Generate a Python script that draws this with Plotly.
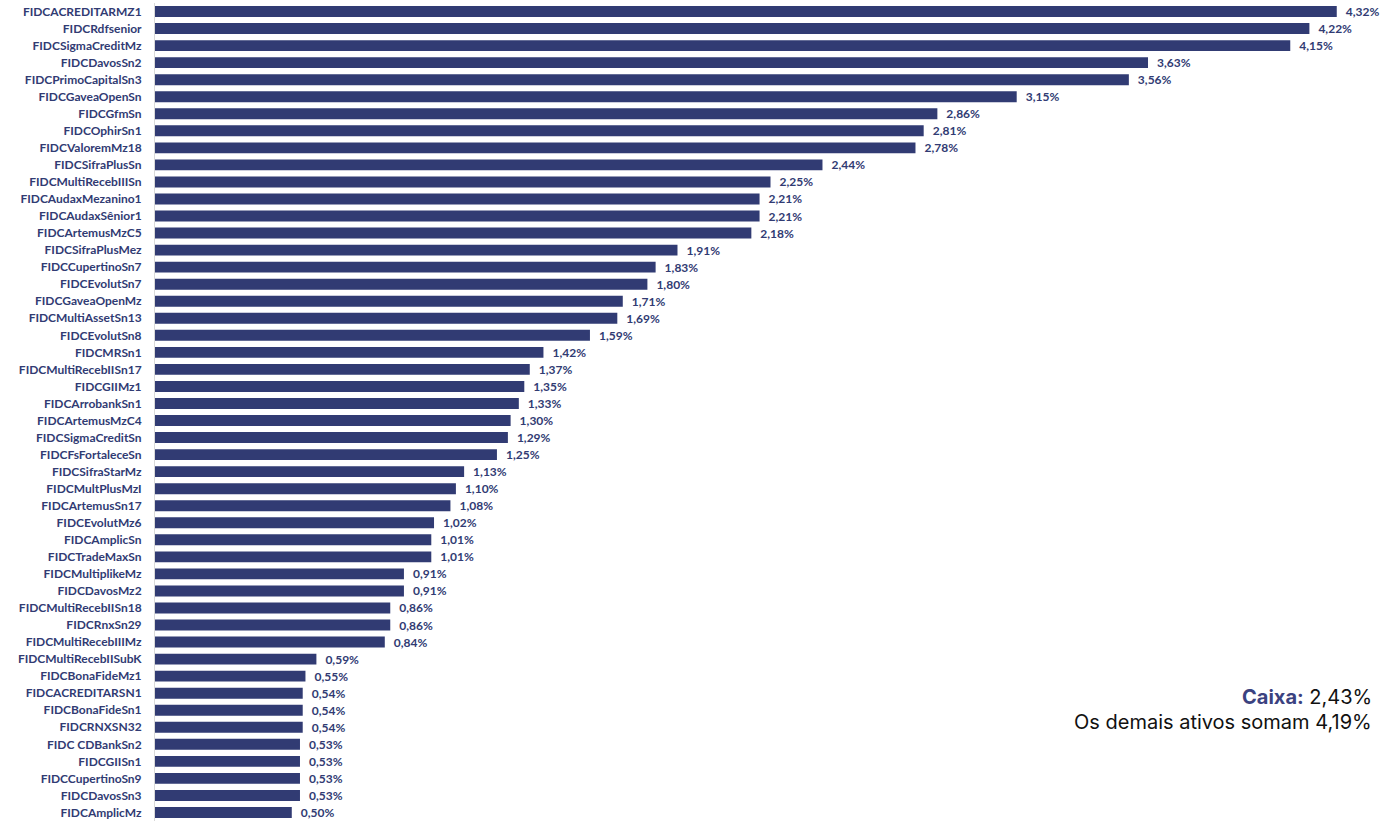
import plotly.graph_objects as go

categories = [
    "FIDCACREDITARMZ1", "FIDCRdfsenior", "FIDCSigmaCreditMz", "FIDCDavosSn2",
    "FIDCPrimoCapitalSn3", "FIDCGaveaOpenSn", "FIDCGfmSn", "FIDCOphirSn1",
    "FIDCValoremMz18", "FIDCSifraPlusSn", "FIDCMultiRecebIIISn", "FIDCAudaxMezanino1",
    "FIDCAudaxSênior1", "FIDCArtemusMzC5", "FIDCSifraPlusMez", "FIDCCupertinoSn7",
    "FIDCEvolutSn7", "FIDCGaveaOpenMz", "FIDCMultiAssetSn13", "FIDCEvolutSn8",
    "FIDCMRSn1", "FIDCMultiRecebIISn17", "FIDCGIIMz1", "FIDCArrobankSn1",
    "FIDCArtemusMzC4", "FIDCSigmaCreditSn", "FIDCFsFortaleceSn", "FIDCSifraStarMz",
    "FIDCMultPlusMzI", "FIDCArtemusSn17", "FIDCEvolutMz6", "FIDCAmplicSn",
    "FIDCTradeMaxSn", "FIDCMultiplikeMz", "FIDCDavosMz2", "FIDCMultiRecebIISn18",
    "FIDCRnxSn29", "FIDCMultiRecebIIIMz", "FIDCMultiRecebIISubK", "FIDCBonaFideMz1",
    "FIDCACREDITARSN1", "FIDCBonaFideSn1", "FIDCRNXSN32", "FIDC CDBankSn2",
    "FIDCGIISn1", "FIDCCupertinoSn9", "FIDCDavosSn3", "FIDCAmplicMz",
]
values = [
    4.32, 4.22, 4.15, 3.63, 3.56, 3.15, 2.86, 2.81, 2.78, 2.44, 2.25, 2.21,
    2.21, 2.18, 1.91, 1.83, 1.80, 1.71, 1.69, 1.59, 1.42, 1.37, 1.35, 1.33,
    1.30, 1.29, 1.25, 1.13, 1.10, 1.08, 1.02, 1.01, 1.01, 0.91, 0.91, 0.86,
    0.86, 0.84, 0.59, 0.55, 0.54, 0.54, 0.54, 0.53, 0.53, 0.53, 0.53, 0.50,
]
caixa_label = "Caixa:"
caixa_value = "2,43%"
demais_text = "Os demais ativos somam 4,19%"

NAVY = "#313b73"
labels = ["\u2002" + f"{v:.2f}".replace(".", ",") + "%" for v in values]

W, H = 1390, 825
ML, MR, MT, MB = 155, 4, 3, 4
PH = H - MT - MB
PW = W - ML - MR


def paper_y(py):
    return (H - MB - py) / PH


def paper_x(px):
    return (px - ML) / PW


fig = go.Figure(go.Bar(
    x=values, y=categories, orientation="h",
    marker=dict(color=NAVY, line=dict(width=0)),
    text=labels, textposition="outside", cliponaxis=False,
    constraintext="none",
    textfont=dict(family="Lato", size=12, color=NAVY, weight="bold"),
    width=0.64,
))

fig.update_layout(
    width=W, height=H,
    margin=dict(l=ML, r=MR, t=MT, b=MB),
    paper_bgcolor="white", plot_bgcolor="white",
    showlegend=False,
    xaxis=dict(range=[0, 4.5], visible=False, showgrid=False, zeroline=False),
    yaxis=dict(
        autorange="reversed", showgrid=False, zeroline=False,
        showline=True, linecolor="#d9d9d9", linewidth=1,
        ticks="", ticklabelstandoff=10,
        tickfont=dict(family="Lato", size=12, color=NAVY, weight="bold"),
    ),
    annotations=[
        dict(xref="paper", yref="paper", x=paper_x(1374), y=paper_y(697),
             xanchor="right", yanchor="middle", showarrow=False,
             text=f"<b><span style='color:#3b4280'>{caixa_label}</span></b> {caixa_value}",
             font=dict(family="Inter", size=20, color="#111111")),
        dict(xref="paper", yref="paper", x=paper_x(1374), y=paper_y(722),
             xanchor="right", yanchor="middle", showarrow=False,
             text=demais_text,
             font=dict(family="Inter", size=20, color="#111111")),
    ],
)

fig.write_html(
    "out.html",
    config={"displayModeBar": False},
    post_script="document.body.style.margin='0';document.body.style.overflow='hidden';",
)
